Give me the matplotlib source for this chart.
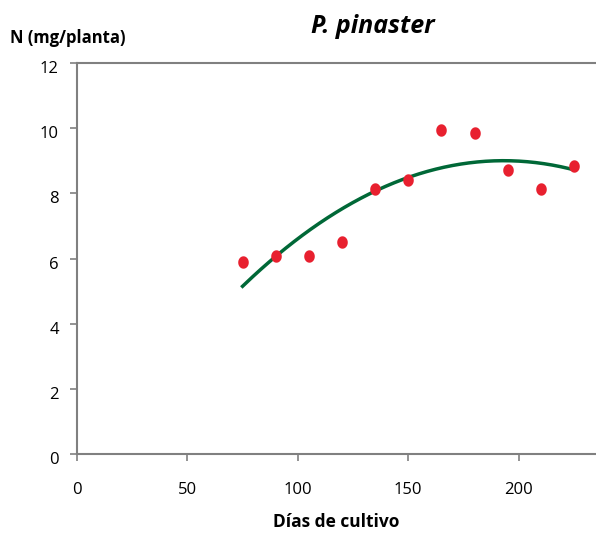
import numpy as np
import matplotlib.pyplot as plt
from matplotlib.transforms import ScaledTranslation

plt.rcParams['font.family'] = ['Open Sans', 'DejaVu Sans']

# data
dias = [75, 90, 105, 120, 135, 150, 165, 180, 195, 210, 225]
n_planta = [5.90, 6.07, 6.07, 6.51, 8.12, 8.40, 9.93, 9.84, 8.73, 8.12, 8.83]
x_ticks = [0, 50, 100, 150, 200]
y_ticks = [0, 2, 4, 6, 8, 10, 12]

# quadratic trendline (excel style)
coef = np.polyfit(dias, n_planta, 2)
xs = np.linspace(min(dias), max(dias), 200)
ys = np.polyval(coef, xs)

# slightly tall elliptical marker like the original
t = np.linspace(0, 2 * np.pi, 40)
oval = np.column_stack([0.85 * np.cos(t), np.sin(t)])

fig = plt.figure(figsize=(5.96, 5.33), dpi=100)
ax = fig.add_axes([0.129, 0.148, 0.871, 0.734])

ax.plot(xs, ys, color='#006837', lw=2.5, zorder=2)
ax.scatter(dias, n_planta, s=80, color='#e8202f', marker=oval, zorder=3,
           linewidths=0)

ax.set_xlim(0, 235)
ax.set_ylim(0, 12)
ax.set_xticks(x_ticks)
ax.set_yticks(y_ticks)

for side in ['left', 'bottom', 'top']:
    ax.spines[side].set_color('#808080')
    ax.spines[side].set_linewidth(1.5)
ax.spines['right'].set_visible(False)

ax.tick_params(axis='both', colors='#808080', length=5, width=1.2,
               labelcolor='black', labelsize=12)
ax.tick_params(axis='x', pad=15)
ax.tick_params(axis='y', pad=8)

# the y labels sit a little below their ticks in the original
off = ScaledTranslation(0, -4 / 100, fig.dpi_scale_trans)
for lab in ax.get_yticklabels():
    lab.set_transform(lab.get_transform() + off)

ax.set_xlabel('Días de cultivo', fontsize=12.5, fontweight='bold', labelpad=11)
fig.text(0.017, 0.928, 'N (mg/planta)', fontsize=12, fontweight='bold',
         ha='left', va='center')
fig.text(0.626, 0.95, 'P. pinaster', fontsize=18, fontweight='bold',
         fontstyle='italic', ha='center', va='center')

fig.savefig('out.png', dpi=100)
